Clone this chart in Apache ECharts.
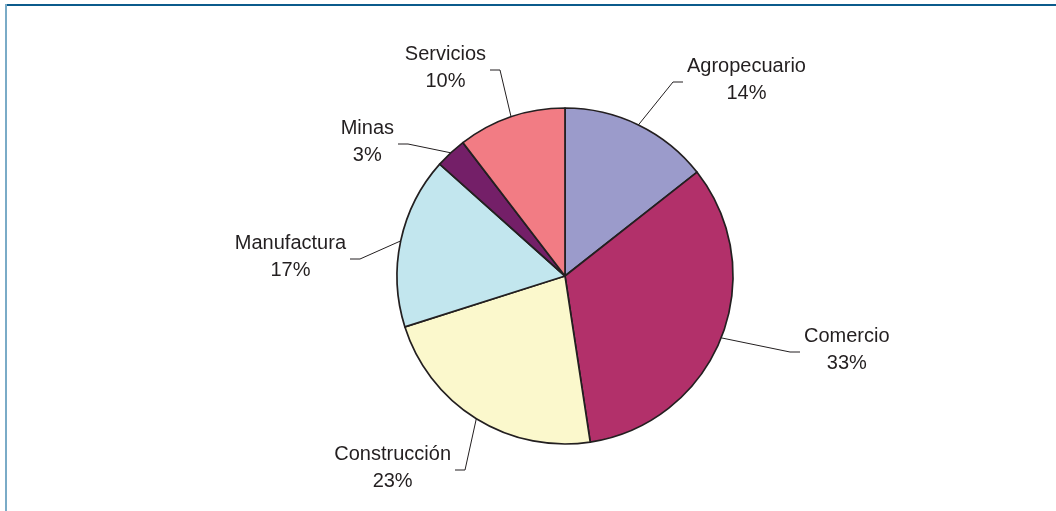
<!DOCTYPE html>
<html><head><meta charset="utf-8">
<script src="https://cdn.jsdelivr.net/npm/echarts@6/dist/echarts.min.js"></script>
<style>
html,body{margin:0;padding:0;background:#fff;width:1056px;height:511px;overflow:hidden}
#chart{position:absolute;left:0;top:0;width:1056px;height:511px}
#bt{position:absolute;left:5px;top:4px;width:1051px;height:2px;background:#0b5b8c}
#bl{position:absolute;left:5px;top:4px;width:2px;height:507px;background:#7aabc7}
</style></head><body>
<div id="bt"></div><div id="bl"></div><div id="chart"></div>
<script>
// Data (shares in %; labels show rounded values)
const categories = ['Agropecuario', 'Comercio', 'Construcción', 'Manufactura', 'Minas', 'Servicios'];
const shares = [14.4, 33.2, 22.5, 16.5, 3.0, 10.4];
// Styles
const sliceColors = ['#9b9bcb', '#b2306a', '#fbf8cc', '#c2e6ee', '#741f68', '#f27c84'];
// Layout only: pie centre and leader-line bend points relative to the centre
const pieCenter = [565, 276];
const pieRadius = 168;
const labelBends = [[108, -194], [225, 76], [-100, 194], [-205, -17], [-157, -132], [-65, -206]];

const chart = echarts.init(document.getElementById('chart'), null, {renderer: 'canvas'});
const seriesData = categories.map((c, i) => ({
  name: c, value: shares[i], itemStyle: {color: sliceColors[i]}
}));

chart.setOption({
  animation: false,
  backgroundColor: 'transparent',
  series: [{
    type: 'pie',
    center: pieCenter,
    radius: pieRadius,
    startAngle: 90,
    clockwise: true,
    avoidLabelOverlap: false,
    data: seriesData,
    itemStyle: {borderColor: '#231f20', borderWidth: 1.7},
    emphasis: {disabled: true},
    label: {
      show: true,
      position: 'outside',
      formatter: p => p.name + '\n' + Math.round(p.percent) + '%',
      color: '#231f20',
      fontFamily: 'Liberation Sans, Arial, sans-serif',
      fontSize: 20,
      lineHeight: 27
    },
    labelLine: {show: true, length: 20, length2: 10, lineStyle: {color: '#231f20', width: 1}},
    labelLayout: function (params) {
      const i = params.dataIndex;
      const p0 = params.labelLinePoints[0];
      const b = labelBends[i];
      const side = b[0] >= 0 ? 1 : -1;
      const bend = [pieCenter[0] + b[0], pieCenter[1] + b[1]];
      const end = [bend[0] + side * 10, bend[1]];
      const w = params.labelRect.width;
      return {
        x: end[0] + side * (4 + w / 2),
        y: end[1] - 2,
        align: 'center',
        verticalAlign: 'middle',
        labelLinePoints: [p0, bend, end]
      };
    }
  }]
});
</script>
</body></html>
